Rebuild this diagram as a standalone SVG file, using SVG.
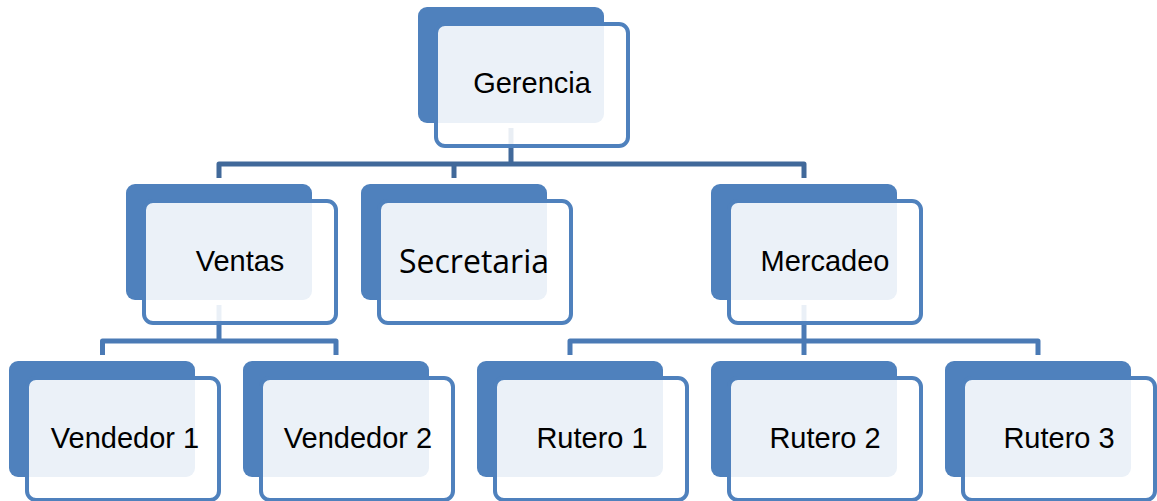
<svg xmlns="http://www.w3.org/2000/svg" width="1157" height="501" viewBox="0 0 1157 501">
  <style>
    .back { fill: #4F81BD; }
    .front { fill: #FFFFFF; fill-opacity: 0.886; stroke: #4F81BD; stroke-width: 4; }
    .lbl { font-family: "Liberation Sans", Arial, sans-serif; font-size: 29px; fill: #000000; text-anchor: middle; }
    .lbl2 { font-family: "Open Sans", "Noto Sans", sans-serif; font-size: 32px; fill: #000000; text-anchor: middle; }
    .c1 { fill: none; stroke: #41699A; stroke-width: 5; stroke-linejoin: round; }
    .c2 { fill: none; stroke: #4A7AB5; stroke-width: 5; stroke-linejoin: round; }
  </style>
  <rect width="1157" height="501" fill="#FFFFFF"/>
  <g id="connectors">
    <path class="c1" d="M511,128 V164"/>
    <path class="c1" d="M219,178 V164 H804 V178"/>
    <path class="c1" d="M454,164 V178"/>
    <path class="c2" d="M219,305 V341"/>
    <path class="c2" d="M102.5,355 V341 H336 V355"/>
    <path class="c2" d="M804,305 V355"/>
    <path class="c2" d="M570,355 V341 H1038 V355"/>
  </g>
  <g id="gerencia" transform="translate(418,7)">
    <rect class="back" x="0" y="0" width="186" height="116" rx="9"/>
    <rect class="front" x="18" y="17" width="192" height="122" rx="9"/>
    <text class="lbl" x="114" y="86">Gerencia</text>
  </g>
  <g id="ventas" transform="translate(126,184)">
    <rect class="back" x="0" y="0" width="186" height="116" rx="9"/>
    <rect class="front" x="18" y="17" width="192" height="122" rx="9"/>
    <text class="lbl" x="114" y="87">Ventas</text>
  </g>
  <g id="secretaria" transform="translate(361,184)">
    <rect class="back" x="0" y="0" width="186" height="116" rx="9"/>
    <rect class="front" x="18" y="17" width="192" height="122" rx="9"/>
    <text class="lbl2" x="113" y="89" textLength="150" lengthAdjust="spacingAndGlyphs">Secretaria</text>
  </g>
  <g id="mercadeo" transform="translate(711,184)">
    <rect class="back" x="0" y="0" width="186" height="116" rx="9"/>
    <rect class="front" x="18" y="17" width="192" height="122" rx="9"/>
    <text class="lbl" x="114" y="87">Mercadeo</text>
  </g>
  <g id="vendedor1" transform="translate(9,361)">
    <rect class="back" x="0" y="0" width="186" height="116" rx="9"/>
    <rect class="front" x="18" y="17" width="192" height="122" rx="9"/>
    <text class="lbl" x="116" y="87">Vendedor 1</text>
  </g>
  <g id="vendedor2" transform="translate(243,361)">
    <rect class="back" x="0" y="0" width="186" height="116" rx="9"/>
    <rect class="front" x="18" y="17" width="192" height="122" rx="9"/>
    <text class="lbl" x="115" y="87">Vendedor 2</text>
  </g>
  <g id="rutero1" transform="translate(477,361)">
    <rect class="back" x="0" y="0" width="186" height="116" rx="9"/>
    <rect class="front" x="18" y="17" width="192" height="122" rx="9"/>
    <text class="lbl" x="115" y="87">Rutero 1</text>
  </g>
  <g id="rutero2" transform="translate(711,361)">
    <rect class="back" x="0" y="0" width="186" height="116" rx="9"/>
    <rect class="front" x="18" y="17" width="192" height="122" rx="9"/>
    <text class="lbl" x="114" y="87">Rutero 2</text>
  </g>
  <g id="rutero3" transform="translate(945,361)">
    <rect class="back" x="0" y="0" width="186" height="116" rx="9"/>
    <rect class="front" x="18" y="17" width="192" height="122" rx="9"/>
    <text class="lbl" x="114" y="87">Rutero 3</text>
  </g>
</svg>
